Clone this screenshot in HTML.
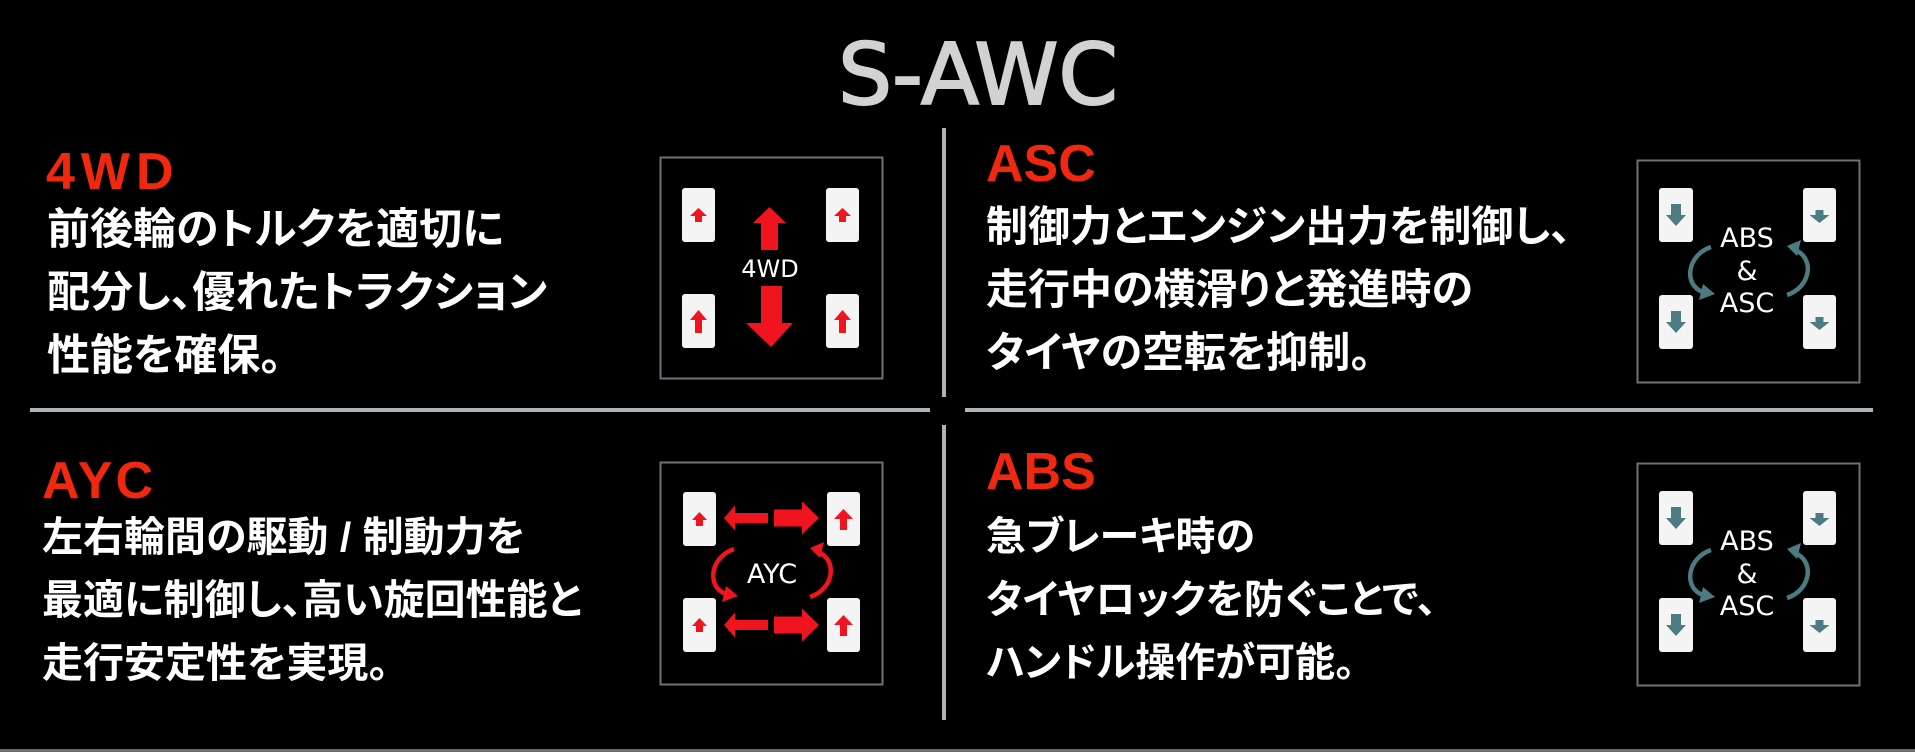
<!DOCTYPE html>
<html><head><meta charset="utf-8"><style>
html,body{margin:0;padding:0;background:#000;}
body{width:1915px;height:752px;position:relative;overflow:hidden;}
.t{position:absolute;white-space:nowrap;}
.h{font-family:"Liberation Sans",sans-serif;font-weight:bold;color:#f0280f;font-size:52px;line-height:52px;}
.b{font-family:"Liberation Sans","Noto Sans CJK JP",sans-serif;font-weight:bold;color:#fff;font-size:42px;line-height:63px;font-feature-settings:"palt";}
</style></head><body>
<svg width="1915" height="752" style="position:absolute;left:0;top:0" xmlns="http://www.w3.org/2000/svg">
<defs>
<g id="ayc">
 <rect x="0.5" y="0.5" width="222" height="222" fill="#000" stroke="#6e7276" stroke-width="2"/>
 <rect x="23" y="30" width="33" height="54" rx="3" fill="#f4f4f4"/>
 <rect x="23" y="136" width="33" height="54" rx="3" fill="#f4f4f4"/>
 <rect x="167" y="30" width="33" height="54" rx="3" fill="#f4f4f4"/>
 <rect x="167" y="136" width="33" height="54" rx="3" fill="#f4f4f4"/>
 <g fill="#f0141e">
  <polygon points="39.5,50 47,58 43,58 43,64 36,64 36,58 32,58"/>
  <polygon points="39.5,156 47,164 43,164 43,170 36,170 36,164 32,164"/>
  <polygon points="183.5,47 193,57 187,57 187,68 180,68 180,57 174,57"/>
  <polygon points="183.5,153 193,163 187,163 187,174 180,174 180,163 174,163"/>
  <polygon points="64,56 75,43.5 75,51 108,51 108,61 75,61 75,68.5"/>
  <polygon points="159,56 142,39.5 142,47.5 114,47.5 114,64.5 142,64.5 142,72.5"/>
  <polygon points="64,163 75,150.5 75,158 108,158 108,168 75,168 75,175.5"/>
  <polygon points="159,163 142,146.5 142,154.5 114,154.5 114,171.5 142,171.5 142,179.5"/>
 </g>
 <g fill="none" stroke="#f0141e" stroke-width="4.5">
  <path d="M74,87 C50,95 46,125 66,132"/>
  <path d="M150,135 C174,127 178,98 158,90"/>
 </g>
 <g fill="#f0141e">
  <polygon points="78,134 62,140 66,124"/>
  <polygon points="150,86 164,80 160,96"/>
 </g>
 <text x="112" y="121" text-anchor="middle" font-family="DejaVu Sans,sans-serif" font-size="27" fill="#fff">AYC</text>
</g>
<g id="abs">
 <rect x="0.5" y="0.5" width="222" height="222" fill="#000" stroke="#6e7276" stroke-width="2"/>
 <rect x="22" y="28" width="34" height="54" rx="3" fill="#f4f4f4"/>
 <rect x="22" y="135" width="34" height="54" rx="3" fill="#f4f4f4"/>
 <rect x="166" y="28" width="33" height="54" rx="3" fill="#f4f4f4"/>
 <rect x="166" y="135" width="33" height="54" rx="3" fill="#f4f4f4"/>
 <g fill="#4d7b82">
  <polygon points="34,44 44,44 44,55 49,55 39,66 29,55 34,55"/>
  <polygon points="34,151 44,151 44,162 49,162 39,173 29,162 34,162"/>
  <polygon points="178.5,50 186.5,50 186.5,55 192.5,55 182.5,63 172.5,55 178.5,55"/>
  <polygon points="178.5,157 186.5,157 186.5,162 192.5,162 182.5,170 172.5,162 178.5,162"/>
 </g>
 <g fill="none" stroke="#4d7b82" stroke-width="4.5">
  <path d="M74,87 C50,95 46,125 66,132"/>
  <path d="M150,135 C174,127 178,98 158,90"/>
 </g>
 <g fill="#4d7b82">
  <polygon points="78,134 62,140 66,124"/>
  <polygon points="150,86 164,80 160,96"/>
 </g>
 <g font-family="DejaVu Sans,sans-serif" font-size="27" fill="#fff" text-anchor="middle">
  <text x="110" y="87">ABS</text>
  <text x="110" y="120">&amp;</text>
  <text x="110" y="152">ASC</text>
 </g>
</g>
</defs>
<text x="978" y="104" text-anchor="middle" font-family="DejaVu Sans,sans-serif" font-size="85" fill="#d2d2d2" stroke="#d2d2d2" stroke-width="2">S-AWC</text>
<g fill="#a9b5b8">
 <rect x="942" y="128" width="4" height="269"/>
 <rect x="942" y="425" width="4" height="295"/>
 <rect x="30" y="408" width="900" height="4"/>
 <rect x="965" y="408" width="908" height="4"/>
 <rect x="0" y="749" width="1915" height="3" fill="#6a6e70"/>
</g>
<g transform="translate(660,157)">
 <rect x="0.5" y="0.5" width="222" height="221" fill="#000" stroke="#6e7276" stroke-width="2"/>
 <rect x="22" y="31" width="33" height="54" rx="3" fill="#f4f4f4"/>
 <rect x="22" y="137" width="33" height="54" rx="3" fill="#f4f4f4"/>
 <rect x="166" y="31" width="33" height="54" rx="3" fill="#f4f4f4"/>
 <rect x="166" y="137" width="33" height="54" rx="3" fill="#f4f4f4"/>
 <g fill="#f0141e">
  <polygon points="38.5,51 47,59 42,59 42,65 35,65 35,59 30,59"/>
  <polygon points="182.5,51 191,59 186,59 186,65 179,65 179,59 174,59"/>
  <polygon points="38.5,153 47,163 42,163 42,176 35,176 35,163 30,163"/>
  <polygon points="182.5,153 191,163 186,163 186,176 179,176 179,163 174,163"/>
  <polygon points="109.5,50 126,66 118,66 118,93 101,93 101,66 93,66"/>
  <polygon points="101,129 122,129 122,166 133,166 111,190 86,166 101,166"/>
 </g>
 <text x="110" y="120" text-anchor="middle" font-family="DejaVu Sans,sans-serif" font-size="24" fill="#fff">4WD</text>
</g>
<use href="#abs" x="1637" y="160"/>
<use href="#ayc" x="660" y="462"/>
<use href="#abs" x="1637" y="463"/>
</svg>

<div class="t h" style="left:46px;top:146px;letter-spacing:6px">4WD</div>
<div class="t b" style="left:47px;top:199px;font-size:43px">前後輪のトルクを適切に<br>配分し、優れたトラクション<br>性能を確保。</div>

<div class="t h" style="left:986px;top:138px;letter-spacing:0px">ASC</div>
<div class="t b" style="left:986px;top:195px;font-size:42px">制御力とエンジン出力を制御し、<br>走行中の横滑りと発進時の<br>タイヤの空転を抑制。</div>

<div class="t h" style="left:42px;top:455px;letter-spacing:3px">AYC</div>
<div class="t b" style="left:42px;top:506px;font-size:41px">左右輪間の駆動 / 制動力を<br>最適に制御し、高い旋回性能と<br>走行安定性を実現。</div>

<div class="t h" style="left:986px;top:446px;letter-spacing:0px">ABS</div>
<div class="t b" style="left:986px;top:506px;font-size:40px">急ブレーキ時の<br>タイヤロックを防ぐことで、<br>ハンドル操作が可能。</div>
</body></html>
